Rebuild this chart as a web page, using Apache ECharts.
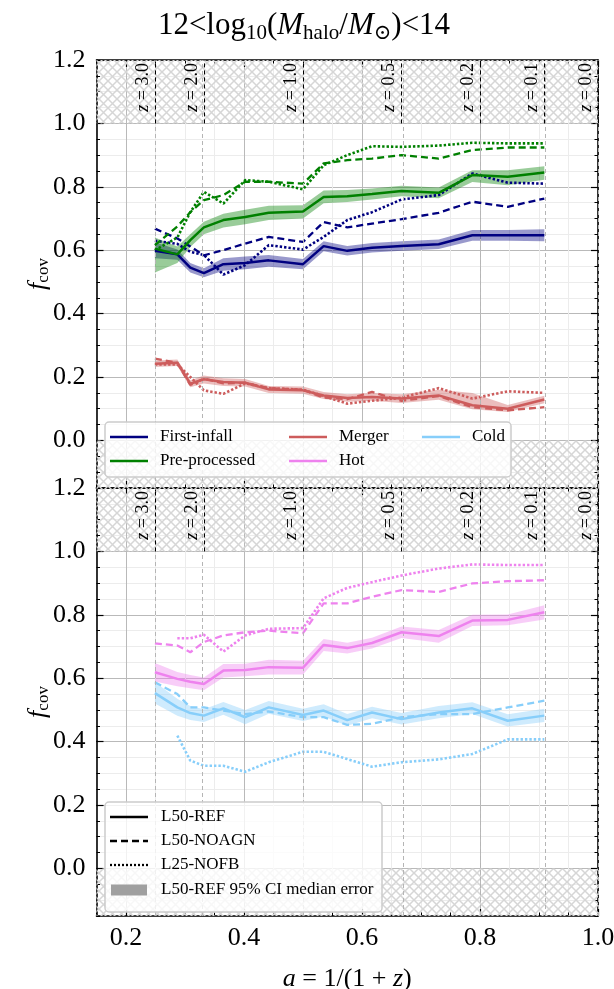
<!DOCTYPE html>
<html>
<head>
<meta charset="utf-8">
<script src="https://cdn.jsdelivr.net/npm/echarts@6/dist/echarts.min.js"></script>
<style>
  html, body { margin: 0; padding: 0; background: #fff; }
  #chart { width: 614px; height: 989px; }
</style>
</head>
<body>
<div id="chart"></div>
<script>
(function() {
    'use strict';

    var SERIF = '"Liberation Serif", "DejaVu Serif", serif';
    var extend = Object.assign;

    // scale factor a of each snapshot
    var aSnap = [0.249, 0.287, 0.309, 0.332, 0.365, 0.402, 0.442, 0.500, 0.535, 0.575, 0.617, 0.667, 0.730, 0.787, 0.847, 0.909];

    // redshift guide lines
    var zMarks = [3, 2, 1, 0.5, 0.25, 0.1, 0];
    var zLabels = ['3.0', '2.0', '1.0', '0.5', '0.2', '0.1', '0.0'];

    var xMajor = [0.2, 0.4, 0.6, 0.8, 1.0];
    var yMajor = [0.0, 0.2, 0.4, 0.6, 0.8, 1.0, 1.2];

    // top panel
    var fiRef   = [0.598, 0.587, 0.545, 0.528, 0.556, 0.560, 0.568, 0.556, 0.613, 0.598, 0.608, 0.613, 0.619, 0.647, 0.647, 0.647];
    var fiNoagn = [0.668, 0.637, 0.612, 0.584, 0.600, 0.621, 0.642, 0.626, 0.689, 0.672, 0.684, 0.698, 0.718, 0.753, 0.737, 0.763];
    var fiNofb  = [0.630, 0.620, 0.595, 0.585, 0.523, 0.553, 0.616, 0.602, 0.642, 0.695, 0.720, 0.760, 0.774, 0.842, 0.813, 0.810];
    var fiLo    = [0.575, 0.570, 0.530, 0.515, 0.535, 0.540, 0.548, 0.540, 0.597, 0.583, 0.593, 0.598, 0.604, 0.630, 0.630, 0.628];
    var fiHi    = [0.625, 0.602, 0.560, 0.543, 0.575, 0.580, 0.585, 0.572, 0.628, 0.613, 0.623, 0.628, 0.634, 0.664, 0.664, 0.666];

    var ppRef   = [0.605, 0.587, 0.632, 0.672, 0.695, 0.705, 0.718, 0.722, 0.768, 0.770, 0.777, 0.787, 0.781, 0.837, 0.832, 0.845];
    var ppNoagn = [0.616, 0.675, 0.720, 0.758, 0.774, 0.816, 0.816, 0.810, 0.874, 0.884, 0.889, 0.900, 0.889, 0.916, 0.924, 0.924];
    var ppNofb  = [0.600, 0.640, 0.720, 0.784, 0.747, 0.821, 0.816, 0.792, 0.868, 0.900, 0.928, 0.926, 0.930, 0.939, 0.937, 0.937];
    var ppLo    = [0.530, 0.560, 0.610, 0.650, 0.672, 0.682, 0.695, 0.700, 0.748, 0.752, 0.760, 0.770, 0.764, 0.815, 0.805, 0.822];
    var ppHi    = [0.640, 0.612, 0.650, 0.690, 0.715, 0.728, 0.740, 0.742, 0.788, 0.790, 0.795, 0.803, 0.798, 0.852, 0.852, 0.865];

    var mgRef   = [0.242, 0.245, 0.179, 0.193, 0.184, 0.182, 0.161, 0.158, 0.142, 0.134, 0.137, 0.132, 0.142, 0.111, 0.100, 0.129];
    var mgNoagn = [0.258, 0.245, 0.175, 0.195, 0.180, 0.182, 0.165, 0.160, 0.135, 0.130, 0.153, 0.125, 0.140, 0.105, 0.095, 0.105];
    var mgNofb  = [0.240, 0.240, 0.200, 0.158, 0.147, 0.180, 0.165, 0.160, 0.140, 0.116, 0.125, 0.135, 0.165, 0.132, 0.155, 0.150];
    var mgLo    = [0.232, 0.235, 0.168, 0.180, 0.172, 0.170, 0.150, 0.147, 0.131, 0.122, 0.125, 0.118, 0.128, 0.098, 0.090, 0.117];
    var mgHi    = [0.252, 0.255, 0.190, 0.205, 0.196, 0.194, 0.172, 0.170, 0.153, 0.146, 0.150, 0.146, 0.160, 0.150, 0.112, 0.141];

    // bottom panel
    var htRef   = [0.619, 0.598, 0.589, 0.582, 0.624, 0.626, 0.635, 0.633, 0.705, 0.695, 0.711, 0.745, 0.733, 0.782, 0.784, 0.808];
    var htNoagn = [0.710, 0.703, 0.682, 0.714, 0.735, 0.745, 0.750, 0.742, 0.836, 0.836, 0.857, 0.878, 0.872, 0.899, 0.906, 0.909];
    var htNofb  = [null, 0.726, 0.726, 0.737, 0.684, 0.735, 0.756, 0.758, 0.852, 0.885, 0.903, 0.924, 0.946, 0.959, 0.957, 0.957];
    var htLo    = [0.590, 0.575, 0.568, 0.562, 0.602, 0.606, 0.612, 0.612, 0.686, 0.678, 0.694, 0.727, 0.712, 0.765, 0.767, 0.785];
    var htHi    = [0.648, 0.620, 0.610, 0.602, 0.645, 0.646, 0.658, 0.655, 0.724, 0.712, 0.728, 0.763, 0.752, 0.800, 0.801, 0.830];

    var cdRef   = [0.553, 0.508, 0.490, 0.482, 0.505, 0.477, 0.508, 0.484, 0.498, 0.468, 0.492, 0.471, 0.492, 0.505, 0.466, 0.482];
    var cdNoagn = [0.587, 0.550, 0.508, 0.508, 0.498, 0.487, 0.495, 0.477, 0.477, 0.453, 0.456, 0.477, 0.487, 0.487, 0.508, 0.529];
    var cdNofb  = [null, 0.419, 0.340, 0.324, 0.324, 0.305, 0.335, 0.368, 0.368, 0.345, 0.321, 0.335, 0.344, 0.361, 0.407, 0.407];
    var cdLo    = [0.520, 0.482, 0.468, 0.462, 0.485, 0.455, 0.488, 0.465, 0.479, 0.450, 0.474, 0.454, 0.474, 0.487, 0.448, 0.462];
    var cdHi    = [0.588, 0.535, 0.512, 0.502, 0.525, 0.500, 0.528, 0.504, 0.518, 0.487, 0.510, 0.490, 0.512, 0.524, 0.486, 0.504];

    var panels = [
        [
            { key: 'fi', name: 'First-infall', color: '#000080', ref: fiRef, noagn: fiNoagn, nofb: fiNofb, lo: fiLo, hi: fiHi },
            { key: 'pp', name: 'Pre-processed', color: '#008000', ref: ppRef, noagn: ppNoagn, nofb: ppNofb, lo: ppLo, hi: ppHi },
            { key: 'mg', name: 'Merger', color: '#cd5c5c', ref: mgRef, noagn: mgNoagn, nofb: mgNofb, lo: mgLo, hi: mgHi }
        ],
        [
            { key: 'ht', name: 'Hot', color: '#ee82ee', ref: htRef, noagn: htNoagn, nofb: htNofb, lo: htLo, hi: htHi },
            { key: 'cd', name: 'Cold', color: '#87cefa', ref: cdRef, noagn: cdNoagn, nofb: cdNofb, lo: cdLo, hi: cdHi }
        ]
    ];

    var GRID_LEFT = 96.5, GRID_W = 501.5, GRID_H = 428;
    var gridTops = [60, 488];

    // crosshatch tile for the out-of-range strips
    var hatch = document.createElement('canvas');
    hatch.width = 9; hatch.height = 9;
    var hctx = hatch.getContext('2d');
    hctx.strokeStyle = '#d6d6d6';
    hctx.lineWidth = 1.5;
    hctx.beginPath();
    hctx.moveTo(-1, -1); hctx.lineTo(10, 10);
    hctx.moveTo(10, -1); hctx.lineTo(-1, 10);
    hctx.stroke();

    var frameLine = { show: true, onZero: false, lineStyle: { color: '#000', width: 1.6 } };
    var noLine = { show: false, onZero: false };
    var minorTick = { show: true, inside: true, length: 3.5, lineStyle: { color: '#000', width: 1 } };

    function majorTick(values) {
        return { show: true, inside: true, length: 7, customValues: values, lineStyle: { color: '#000', width: 1.2 } };
    }

    function xAxesFor(g) {
        var base = { gridIndex: g, type: 'value', min: 0.15, max: 1.0 };
        var bottomLabel = g === 1 ? {
            show: true, customValues: xMajor, margin: 9, color: '#000',
            fontFamily: SERIF, fontSize: 26,
            formatter: function(v) { return v.toFixed(1); }
        } : { show: false };
        return [
            extend({}, base, {
                position: 'bottom', interval: 0.05, axisLine: frameLine, axisTick: minorTick, axisLabel: { show: false },
                splitLine: { show: true, lineStyle: { color: ['#ececec', '#b9b9b9', '#ececec', '#ececec'], width: 1 } }
            }),
            extend({}, base, {
                position: 'bottom', axisLine: noLine, axisTick: majorTick(xMajor), axisLabel: bottomLabel, splitLine: { show: false },
                name: g === 1 ? '{i|a} = 1/(1 + {i|z})' : '', nameLocation: 'middle', nameGap: 50,
                nameTextStyle: { color: '#000', fontFamily: SERIF, fontSize: 26,
                    rich: { i: { fontFamily: SERIF, fontSize: 26, fontStyle: 'italic' } } }
            }),
            extend({}, base, {
                position: 'top', interval: 0.05, axisLine: frameLine, axisTick: minorTick, axisLabel: { show: false }, splitLine: { show: false }
            }),
            extend({}, base, {
                position: 'top', axisLine: noLine, axisTick: majorTick(xMajor), axisLabel: { show: false }, splitLine: { show: false }
            })
        ];
    }

    function yAxesFor(g) {
        var base = { gridIndex: g, type: 'value', min: -0.15, max: 1.2 };
        return [
            extend({}, base, {
                position: 'left', interval: 0.05, axisLine: frameLine, axisTick: minorTick, axisLabel: { show: false },
                splitLine: { show: true, lineStyle: { color: ['#ececec', '#ececec', '#ececec', '#b9b9b9'], width: 1 } }
            }),
            extend({}, base, {
                position: 'left', axisLine: noLine, axisTick: majorTick(yMajor), splitLine: { show: false },
                axisLabel: { show: true, customValues: yMajor, margin: 11, color: '#000', fontFamily: SERIF, fontSize: 26,
                    formatter: function(v) { return v.toFixed(1); } },
                name: '{f|f}{s|cov}', nameLocation: 'middle', nameGap: 44, nameRotate: 90, nameMoveOverlap: false,
                nameTextStyle: { color: '#000', rich: {
                    f: { fontFamily: SERIF, fontSize: 26, fontStyle: 'italic' },
                    s: { fontFamily: SERIF, fontSize: 17, padding: [12, 0, 0, 0] } } }
            }),
            extend({}, base, {
                position: 'right', interval: 0.05, axisLine: frameLine, axisTick: minorTick, axisLabel: { show: false }, splitLine: { show: false }
            }),
            extend({}, base, {
                position: 'right', axisLine: noLine, axisTick: majorTick(yMajor), axisLabel: { show: false }, splitLine: { show: false }
            })
        ];
    }

    function pairs(values) {
        return values.map(function(v, i) { return [aSnap[i], v]; });
    }

    function guideSeries(g) {
        var ax = { xAxisIndex: g * 4, yAxisIndex: g * 4 };
        return [
            extend({ type: 'line', data: [], silent: true, z: 0,
                markArea: { silent: true, itemStyle: { color: { image: hatch, repeat: 'repeat' } },
                    data: [[{ yAxis: 1.0 }, { yAxis: 1.2 }], [{ yAxis: -0.15 }, { yAxis: 0 }]] }
            }, ax),
            extend({ type: 'line', data: [], silent: true, z: 1,
                markLine: { silent: true, symbol: ['none', 'none'], label: { show: false },
                    lineStyle: { color: '#b5b5b5', type: [4, 3], width: 1 },
                    data: zMarks.map(function(z) { return { xAxis: 1 / (1 + z) }; }) }
            }, ax),
            extend({ type: 'line', data: [], silent: true, z: 1,
                markLine: { silent: true, symbol: ['none', 'none'],
                    lineStyle: { color: '#000', type: [4, 3], width: 1 },
                    label: { show: true, position: 'insideEndTop', distance: 3, color: '#000',
                        fontFamily: SERIF, fontSize: 18,
                        formatter: function(p) { return '{i|z} = ' + p.name; },
                        rich: { i: { fontFamily: SERIF, fontSize: 18, fontStyle: 'italic' } } },
                    data: zMarks.map(function(z, i) {
                        return [{ coord: [1 / (1 + z), 1.0], name: zLabels[i] }, { coord: [1 / (1 + z), 1.2] }];
                    }) }
            }, ax)
        ];
    }

    // shaded CI band: one polygon through the lower and upper bounds
    function bandRenderer(color) {
        return function(params, api) {
            if (params.dataIndexInside !== 0) {
                return null;
            }
            var n = params.dataInsideLength;
            var upper = [], lower = [];
            for (var i = 0; i < n; i++) {
                upper.push(api.coord([api.value(0, i), api.value(2, i)]));
                lower.unshift(api.coord([api.value(0, i), api.value(1, i)]));
            }
            return { type: 'polygon', shape: { points: upper.concat(lower) },
                style: { fill: color, opacity: 0.4 } };
        };
    }

    function componentSeries(g, c) {
        var ax = { xAxisIndex: g * 4, yAxisIndex: g * 4 };
        var common = { type: 'line', symbol: 'none', silent: true, connectNulls: false };
        return {
            band: [
                extend({ type: 'custom', silent: true, z: 2, renderItem: bandRenderer(c.color),
                    encode: { x: 0, y: [1, 2] },
                    data: aSnap.map(function(a, i) { return [a, c.lo[i], c.hi[i]]; }) }, ax)
            ],
            lines: [
                extend({}, common, ax, { name: c.name, z: 4, data: pairs(c.noagn), lineStyle: { color: c.color, width: 2.3, type: [7, 4] } }),
                extend({}, common, ax, { name: c.name, z: 4, data: pairs(c.nofb), lineStyle: { color: c.color, width: 2.6, type: [2.4, 2] } }),
                extend({}, common, ax, { name: c.name, z: 5, data: pairs(c.ref), lineStyle: { color: c.color, width: 2.5 } })
            ]
        };
    }

    var series = [];
    panels.forEach(function(comps, g) {
        series = series.concat(guideSeries(g));
        var built = comps.map(function(c) { return componentSeries(g, c); });
        built.forEach(function(b) { series = series.concat(b.band); });
        built.forEach(function(b) { series = series.concat(b.lines); });
    });

    // legends, drawn as graphics (matplotlib-style boxes)
    function legLine(x, y, color, dash) {
        return { type: 'line', z: 100, shape: { x1: x, y1: y, x2: x + 38, y2: y },
            style: { stroke: color, lineWidth: 2.3, lineDash: dash || null } };
    }
    function legText(x, y, text) {
        return { type: 'text', z: 100, x: x, y: y,
            style: { text: text, fill: '#000', fontFamily: SERIF, fontSize: 17, verticalAlign: 'middle' } };
    }
    function legBox(x, y, w, h) {
        return { type: 'rect', z: 99, shape: { x: x, y: y, width: w, height: h, r: 4 },
            style: { fill: 'rgba(255,255,255,0.8)', stroke: '#cccccc', lineWidth: 1.5 } };
    }

    var topEntries = [panels[0][0], panels[0][1], panels[0][2], panels[1][0], panels[1][1]];
    var colX = [110, 289, 422];
    var rowY = [437, 461];
    var graphics = [legBox(105, 422, 406, 55)];
    // column-major order as matplotlib lays out ncol=3
    var order = [[0, 0, 0], [1, 0, 1], [2, 1, 0], [3, 1, 1], [4, 2, 0]];
    order.forEach(function(o) {
        var c = topEntries[o[0]];
        graphics.push(legLine(colX[o[1]], rowY[o[2]], c.color));
        graphics.push(legText(colX[o[1]] + 50, rowY[o[2]], c.name));
    });

    var styleNames = ['L50-REF', 'L50-NOAGN', 'L25-NOFB', 'L50-REF 95% CI median error'];
    var styleRows = [817, 841, 865, 890];
    graphics.push(legBox(105, 802, 277, 110));
    graphics.push(legLine(110, styleRows[0], '#000'));
    graphics.push(legLine(110, styleRows[1], '#000', [7, 4]));
    graphics.push(legLine(110, styleRows[2], '#000', [2, 2]));
    graphics.push({ type: 'rect', z: 100, shape: { x: 111, y: styleRows[3] - 5.5, width: 36, height: 11 },
        style: { fill: '#a0a0a0' } });
    styleNames.forEach(function(n, i) { graphics.push(legText(161, styleRows[i], n)); });

    var option = {
        animation: false,
        backgroundColor: '#ffffff',
        title: {
            text: '12<log{s|10}({i|M}{s|halo}/{i|M}{s|⊙})<14',
            left: 299, top: 2, textAlign: 'center',
            textStyle: {
                color: '#000', fontFamily: SERIF, fontSize: 31, fontWeight: 'normal',
                rich: {
                    i: { fontFamily: SERIF, fontSize: 31, fontStyle: 'italic' },
                    s: { fontFamily: SERIF, fontSize: 21, padding: [16, 0, 0, 0] }
                }
            }
        },
        grid: gridTops.map(function(t) {
            return { left: GRID_LEFT, top: t, width: GRID_W, height: GRID_H, containLabel: false, outerBoundsMode: 'none' };
        }),
        xAxis: xAxesFor(0).concat(xAxesFor(1)),
        yAxis: yAxesFor(0).concat(yAxesFor(1)),
        series: series,
        graphic: graphics
    };

    var chart = echarts.init(document.getElementById('chart'), null, { renderer: 'canvas' });
    chart.setOption(option);
})();
</script>
</body>
</html>
